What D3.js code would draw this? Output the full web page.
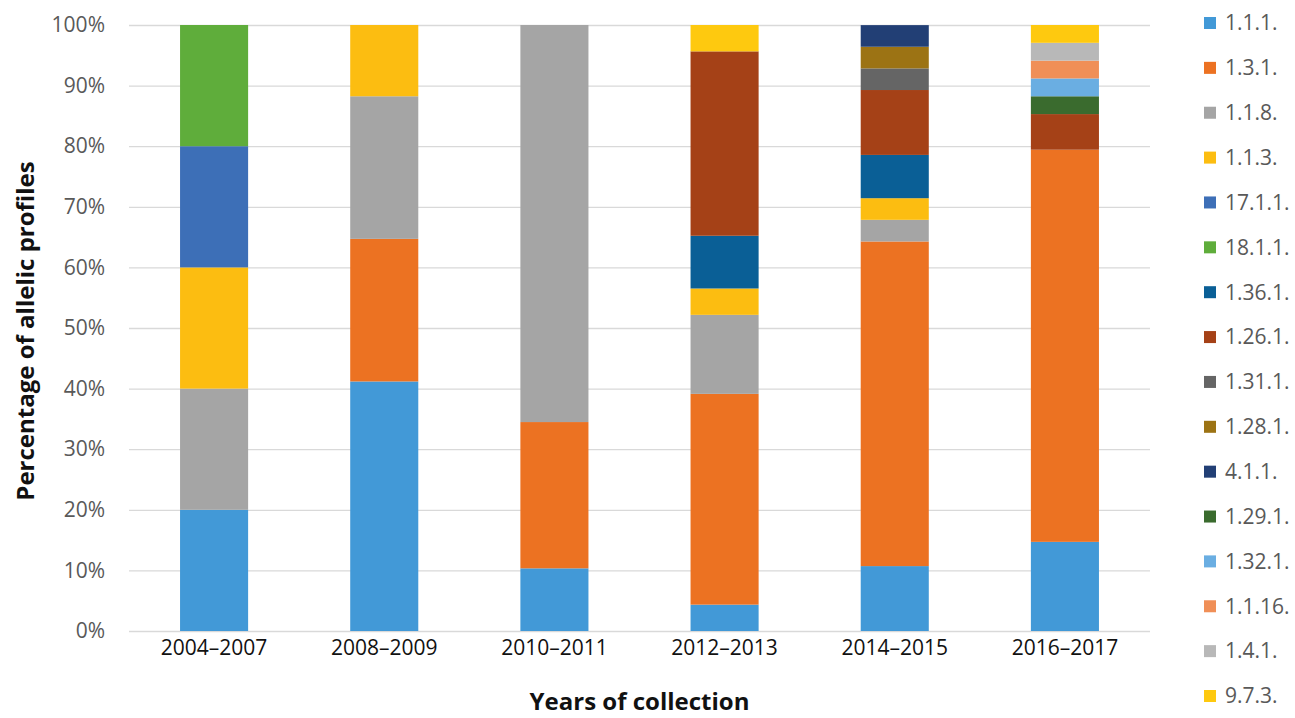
<!DOCTYPE html>
<html>
<head>
<meta charset="utf-8">
<script src="https://cdn.jsdelivr.net/npm/d3@7"></script>
<style>
  html, body { margin: 0; padding: 0; background: #fff; }
  svg { display: block; font-family: "Open Sans", sans-serif; }
</style>
</head>
<body>
<svg id="chart" width="1295" height="718"></svg>
<script>
// Collection periods (x axis)
const periods = ["2004–2007", "2008–2009", "2010–2011", "2012–2013", "2014–2015", "2016–2017"];

// Allelic profiles, stacked bottom to top in this order
const profiles = ["1.1.1.", "1.3.1.", "1.1.8.", "1.1.3.", "17.1.1.", "18.1.1.", "1.36.1.", "1.26.1.",
                  "1.31.1.", "1.28.1.", "4.1.1.", "1.29.1.", "1.32.1.", "1.1.16.", "1.4.1.", "9.7.3."];

const profileColors = ["#4299d7", "#ec7222", "#a5a5a5", "#fcbd11", "#3d6fb7", "#5fad3b", "#0a5f96", "#a54117",
                       "#656565", "#9c7314", "#223f75", "#3a6b2e", "#6aaee2", "#f08f57", "#b8b8b8", "#fec90f"];

// Percentage of allelic profiles per period, one row per profile (same order as `profiles`)
const shares = [
  [20, 41.18, 10.34,  4.35, 10.71, 14.71],  // 1.1.1.
  [ 0, 23.53, 24.14, 34.78, 53.57, 64.71],  // 1.3.1.
  [20, 23.53, 65.52, 13.04,  3.57,  0   ],  // 1.1.8.
  [20, 11.76,  0,     4.35,  3.57,  0   ],  // 1.1.3.
  [20,  0,     0,     0,     0,     0   ],  // 17.1.1.
  [20,  0,     0,     0,     0,     0   ],  // 18.1.1.
  [ 0,  0,     0,     8.70,  7.14,  0   ],  // 1.36.1.
  [ 0,  0,     0,    30.43, 10.71,  5.88],  // 1.26.1.
  [ 0,  0,     0,     0,     3.57,  0   ],  // 1.31.1.
  [ 0,  0,     0,     0,     3.57,  0   ],  // 1.28.1.
  [ 0,  0,     0,     0,     3.57,  0   ],  // 4.1.1.
  [ 0,  0,     0,     0,     0,     2.94],  // 1.29.1.
  [ 0,  0,     0,     0,     0,     2.94],  // 1.32.1.
  [ 0,  0,     0,     0,     0,     2.94],  // 1.1.16.
  [ 0,  0,     0,     0,     0,     2.94],  // 1.4.1.
  [ 0,  0,     0,     4.35,  0,     2.94]   // 9.7.3.
];

const yTicks = [0, 10, 20, 30, 40, 50, 60, 70, 80, 90, 100];

// Table for d3.stack: one record per period
const table = periods.map((p, i) => {
  const row = { period: p };
  profiles.forEach((k, j) => { row[k] = shares[j][i]; });
  return row;
});

const svg = d3.select("#chart");
const plot = { left: 129, right: 1150, top: 25, bottom: 631 };

const x = d3.scaleBand().domain(periods).range([plot.left, plot.right]).paddingInner(0.6).paddingOuter(0.3);
const y = d3.scaleLinear().domain([0, 100]).range([plot.bottom, plot.top]);
const color = d3.scaleOrdinal().domain(profiles).range(profileColors);

// Horizontal gridlines
svg.append("g")
  .attr("transform", `translate(${plot.left},0)`)
  .call(d3.axisLeft(y).tickValues(yTicks).tickSize(-(plot.right - plot.left)).tickFormat(""))
  .call(g => g.select(".domain").remove())
  .call(g => g.selectAll(".tick line").attr("stroke", "#d9d9d9").attr("stroke-width", 1.3));

// Y tick labels
svg.append("g")
  .attr("transform", `translate(${plot.left},0)`)
  .call(d3.axisLeft(y).tickValues(yTicks).tickSize(0).tickPadding(24).tickFormat(d => d + "%"))
  .call(g => g.select(".domain").remove())
  .call(g => g.selectAll(".tick text")
    .attr("fill", "#595959").attr("font-size", 21).attr("font-family", "Open Sans, sans-serif"));

// Stacked bars
const series = d3.stack().keys(profiles)(table);
svg.append("g")
  .selectAll("g")
  .data(series)
  .join("g")
  .attr("fill", d => color(d.key))
  .selectAll("rect")
  .data(d => d.filter(s => s[1] - s[0] > 0))
  .join("rect")
  .attr("x", d => x(d.data.period))
  .attr("width", x.bandwidth())
  .attr("y", d => y(d[1]))
  .attr("height", d => y(d[0]) - y(d[1]));

// X axis category labels
svg.append("g")
  .attr("transform", `translate(0,${plot.bottom})`)
  .call(d3.axisBottom(x).tickSize(0).tickPadding(9))
  .call(g => g.select(".domain").remove())
  .call(g => g.selectAll(".tick text")
    .attr("fill", "#111").attr("font-size", 21).attr("font-family", "Open Sans, sans-serif"));

// Axis titles
svg.append("text")
  .attr("x", (plot.left + plot.right) / 2)
  .attr("y", 710)
  .attr("text-anchor", "middle")
  .attr("font-size", 24)
  .attr("font-weight", "bold")
  .attr("fill", "#111")
  .text("Years of collection");

svg.append("text")
  .attr("transform", "translate(34,331) rotate(-90)")
  .attr("text-anchor", "middle")
  .attr("font-size", 24)
  .attr("font-weight", "bold")
  .attr("fill", "#111")
  .text("Percentage of allelic profiles");

// Legend
const legend = svg.append("g").attr("transform", "translate(1204,0)");
const legendY = d3.scalePoint().domain(profiles).range([23, 696]);
const item = legend.selectAll("g").data(profiles).join("g")
  .attr("transform", d => `translate(0,${legendY(d)})`);
item.append("rect")
  .attr("x", 0).attr("y", -6).attr("width", 12).attr("height", 12)
  .attr("fill", d => color(d));
item.append("text")
  .attr("x", 21).attr("dy", "0.35em")
  .attr("font-size", 21).attr("fill", "#595959")
  .text(d => d);
</script>
</body>
</html>
